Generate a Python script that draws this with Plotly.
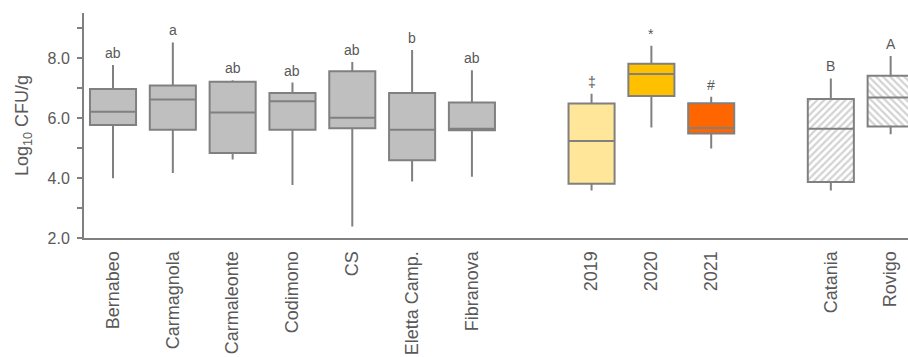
import plotly.graph_objects as go

# Sample groups and their slots on the category axis (gaps separate the panels)
categories = ["Bernabeo", "Carmagnola", "Carmaleonte", "Codimono", "CS",
              "Eletta Camp.", "Fibranova", "2019", "2020", "2021", "Catania", "Rovigo"]
positions = [0, 1, 2, 3, 4, 5, 6, 8, 9, 10, 12, 13]

# Box statistics, Log10 CFU/g
lower = [3.99, 4.17, 4.62, 3.77, 2.38, 3.88, 4.04, 3.58, 5.68, 4.98, 3.58, 5.46]
q1 = [5.77, 5.61, 4.83, 5.61, 5.66, 4.59, 5.59, 3.81, 6.73, 5.48, 3.87, 5.72]
median = [6.21, 6.62, 6.18, 6.56, 6.01, 5.61, 5.64, 5.23, 7.47, 5.67, 5.64, 6.68]
q3 = [6.97, 7.08, 7.21, 6.83, 7.56, 6.83, 6.52, 6.48, 7.81, 6.49, 6.63, 7.41]
upper = [7.77, 8.52, 7.26, 7.18, 7.87, 8.27, 7.59, 6.81, 8.41, 6.71, 7.32, 8.07]

# Significance letters / symbols
letters = ["ab", "a", "ab", "ab", "ab", "b", "ab", "‡", "*", "#", "B", "A"]

fills = ["#bfbfbf"] * 7 + ["#ffe699", "#ffc000", "#ff6600", None, None]
hatches = [None] * 10 + ["/", "\\"]

line_col = "#808080"
text_col = "#595959"
box_w = 0.77
font_family = "Liberation Sans, Arial"

fig = go.Figure()

# Hatched boxes: patterned bars spanning Q1..Q3 underneath a transparent box
for i, h in enumerate(hatches):
    if h is None:
        continue
    fig.add_trace(go.Bar(
        x=[positions[i]], base=[q1[i]], y=[q3[i] - q1[i]], width=box_w,
        marker=dict(color="white", line=dict(width=0),
                    pattern=dict(shape=h, fgcolor="#a6a6a6", bgcolor="white",
                                 size=5, solidity=0.45)),
        showlegend=False, hoverinfo="skip"))

for i in range(len(categories)):
    fc = fills[i] if fills[i] else "rgba(0,0,0,0)"
    fig.add_trace(go.Box(
        x=[positions[i]], q1=[q1[i]], median=[median[i]], q3=[q3[i]],
        lowerfence=[lower[i]], upperfence=[upper[i]],
        width=box_w, whiskerwidth=0, fillcolor=fc,
        line=dict(color=line_col, width=2), boxpoints=False,
        name=categories[i], showlegend=False))
    fig.add_annotation(x=positions[i], y=upper[i], text=letters[i],
                       showarrow=False, yanchor="middle", yshift=12,
                       font=dict(family=font_family, size=14, color=text_col))

fig.update_layout(
    width=908, height=357,
    margin=dict(l=84, r=0, t=13, b=119),
    plot_bgcolor="white", paper_bgcolor="white",
    barmode="overlay", boxmode="overlay",
    font=dict(family=font_family, color=text_col, size=16),
)
fig.update_xaxes(
    range=[-0.485, 13.29], tickmode="array", tickvals=positions, ticktext=categories,
    tickangle=-90, showline=True, linecolor=line_col, linewidth=2,
    showgrid=False, zeroline=False, ticks="", automargin=False,
    ticklabelstandoff=4,
    tickfont=dict(size=18, color=text_col),
)
fig.update_yaxes(
    range=[2, 9.5], tickvals=[2, 4, 6, 8], ticktext=["2.0", "4.0", "6.0", "8.0"],
    ticks="outside", ticklen=5, tickcolor=line_col, tickwidth=2,
    minor=dict(tickvals=[3, 5, 7, 9], ticks="outside", ticklen=5, tickcolor=line_col, tickwidth=2),
    showline=True, linecolor=line_col, linewidth=2, showgrid=False, zeroline=False,
    ticklabelstandoff=4,
    title=dict(text="Log<sub>10</sub> CFU/g", font=dict(size=18, color=text_col), standoff=14),
    tickfont=dict(size=16, color=text_col), automargin=False,
)

fig.write_html("out.html")
